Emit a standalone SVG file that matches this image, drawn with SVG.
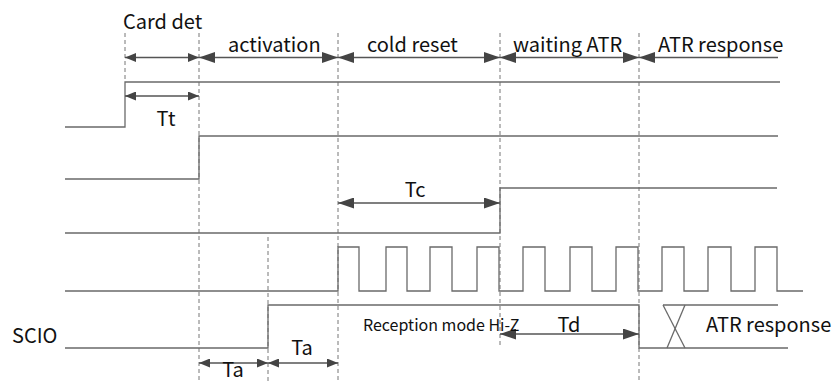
<svg xmlns="http://www.w3.org/2000/svg" width="839" height="383" viewBox="0 0 839 383">
<style>
.sig{fill:none;stroke:#6a6a6a;stroke-width:1.3}
.dash{fill:none;stroke:#777;stroke-width:1;stroke-dasharray:4,3}
.arL{fill:none;stroke:#555;stroke-width:1.3;marker-start:url(#hL);marker-end:url(#hL)}
.arS{fill:none;stroke:#555;stroke-width:1.3;marker-start:url(#hS);marker-end:url(#hS)}
text{font-family:"Noto Sans CJK SC","Noto Sans",sans-serif;fill:#111}
.lb{font-size:20px}
.sm{font-size:16px}
</style>
<defs>
<marker id="hL" markerUnits="userSpaceOnUse" markerWidth="16" markerHeight="11" refX="16" refY="5.5" orient="auto-start-reverse"><path d="M0,0 L16,5.5 L0,11 z" fill="#444"/></marker>
<marker id="hS" markerUnits="userSpaceOnUse" markerWidth="11" markerHeight="9" refX="11" refY="4.5" orient="auto-start-reverse"><path d="M0,0 L11,4.5 L0,9 z" fill="#444"/></marker>
</defs>
<g id="guides">
<line class="dash" x1="125" y1="33" x2="125" y2="82"/>
<line class="dash" x1="199" y1="33" x2="199" y2="383"/>
<line class="dash" x1="338" y1="33" x2="338" y2="383"/>
<line class="dash" x1="500" y1="33" x2="500" y2="347"/>
<line class="dash" x1="639" y1="33" x2="639" y2="383"/>
<line class="dash" x1="268" y1="237" x2="268" y2="383"/>
</g>
<g id="signals">
<polyline class="sig" points="65,127 125,127 125,82 780,82"/>
<polyline class="sig" points="65,179 199,179 199,136 778,136"/>
<polyline class="sig" points="65,233 500,233 500,188 777,188"/>
<polyline class="sig" points="65,291 338,291 338,247 359,247 359,291 386,291 386,247 407,247 407,291 430,291 430,247 452,247 452,291 477,291 477,247 499,247 499,291 523,291 523,247 545,247 545,291 570,291 570,247 592,247 592,291 616,291 616,247 638,247 638,291 662,291 662,247 684,247 684,291 708,291 708,247 731,247 731,291 755,291 755,247 777,247 777,291 803,291"/>
<polyline class="sig" points="65,348 268,348 268,305 639,305 639,348 788,348"/>
<line class="sig" x1="663" y1="305" x2="778" y2="305"/>
<line class="sig" x1="663" y1="305" x2="685" y2="348"/>
<line class="sig" x1="685" y1="305" x2="667" y2="348"/>
</g>
<g id="connectors">
<line class="arS" x1="125" y1="57.5" x2="199" y2="57.5"/>
<line class="arL" x1="199" y1="57.5" x2="338" y2="57.5"/>
<line class="arL" x1="338" y1="57.5" x2="500" y2="57.5"/>
<line class="arL" x1="500" y1="57.5" x2="639" y2="57.5"/>
<line class="sig" x1="639" y1="57.5" x2="778" y2="57.5" style="stroke:#555;marker-start:url(#hL)"/>
<line class="arS" x1="125" y1="96" x2="199" y2="96"/>
<line class="arL" x1="338" y1="203" x2="500" y2="203"/>
<line class="arS" x1="199" y1="363" x2="268" y2="363"/>
<line class="arS" x1="268" y1="363" x2="338" y2="363"/>
<line class="arL" x1="500" y1="334" x2="639" y2="334"/>
</g>
<g id="labels">
<text class="lb" x="123" y="29">Card det</text>
<text class="lb" x="228" y="52">activation</text>
<text class="lb" x="367" y="52">cold reset</text>
<text class="lb" x="513" y="52">waiting ATR</text>
<text class="lb" x="658" y="52">ATR response</text>
<text class="lb" x="166" y="126" text-anchor="middle">Tt</text>
<text class="lb" x="415" y="197" text-anchor="middle">Tc</text>
<text class="lb" x="12" y="343">SCIO</text>
<text class="sm" x="363" y="331">Reception mode Hi-Z</text>
<text class="lb" x="569" y="332" text-anchor="middle">Td</text>
<text class="lb" x="706" y="332">ATR response</text>
<text class="lb" x="302" y="355" text-anchor="middle">Ta</text>
<text class="lb" x="233" y="377" text-anchor="middle">Ta</text>
</g>
</svg>
